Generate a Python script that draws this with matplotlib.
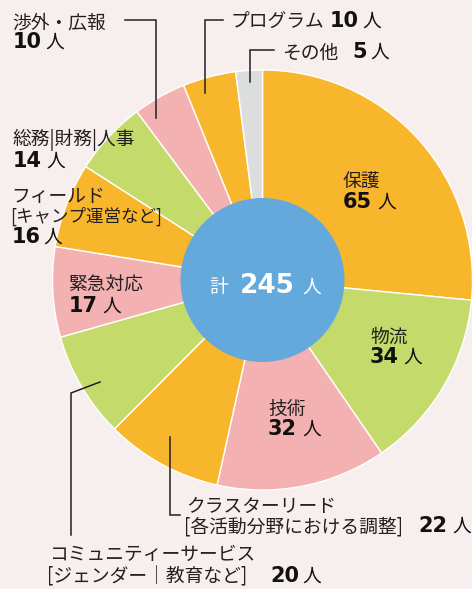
import matplotlib.pyplot as plt
from matplotlib.patches import Circle

# ---- data (clockwise from 12 o'clock) ----
categories = ["保護", "物流", "技術", "クラスターリード", "コミュニティーサービス",
              "緊急対応", "フィールド", "総務|財務|人事", "渉外・広報", "プログラム", "その他"]
counts = [65, 34, 32, 22, 20, 17, 16, 14, 10, 10, 5]
total = sum(counts)

ORANGE, GREEN, PINK, GREY = "#f8b62d", "#c4da6b", "#f4b1b1", "#dcdddd"
colors = [ORANGE, GREEN, PINK, ORANGE, GREEN, PINK, ORANGE, GREEN, PINK, ORANGE, GREY]

W, H = 472, 589
BG = "#f6efed"
CX, CY, R_OUT, R_IN = 262.5, 280, 210, 82

JP = dict(family=["Noto Sans CJK JP", "DejaVu Sans"], fontsize=13.5, color="#231f20",
          va="baseline", ha="left")
NUM = dict(family="DejaVu Sans", fontweight="bold", fontsize=15, color="#111111",
           va="baseline", ha="left")

fig = plt.figure(figsize=(W / 100, H / 100), dpi=100, facecolor=BG)
ax = fig.add_axes([0, 0, 1, 1])
ax.set_xlim(0, W)
ax.set_ylim(H, 0)  # pixel-like coords, y down
ax.set_aspect("equal")
ax.axis("off")

# y axis is inverted, so counterclock in data = clockwise on screen; -90 = top
ax.pie(counts, colors=colors, startangle=-90, counterclock=True,
       center=(CX, CY), radius=R_OUT,
       wedgeprops=dict(edgecolor="white", linewidth=1.0))
ax.set_xlim(0, W)
ax.set_ylim(H, 0)
ax.add_patch(Circle((CX, CY), R_IN, facecolor="#63a9dc", edgecolor="none", zorder=3))


def label(x, y, s, style=JP, **kw):
    ax.text(x, y, s, **{**style, **kw})


def count_row(x_num, x_unit, y, n, color="#111111", size=15):
    ax.text(x_num, y, str(n), **{**NUM, "color": color, "fontsize": size})
    ax.text(x_unit, y, "人", **{**JP, "color": color})


# centre
ax.text(209, 293, "計", **{**JP, "color": "white"}, zorder=4)
count_row(240, 302, 293, total, color="white", size=19)

# labels inside wedges
label(343, 188, categories[0]); count_row(343, 377, 208, counts[0])
label(370, 343, categories[1]); count_row(370, 403, 363, counts[1])
label(268, 415, categories[2]); count_row(268, 302, 435, counts[2])
label(68, 291, categories[5]); count_row(69, 102, 312, counts[5])

# labels outside
label(12, 28, categories[8]); count_row(13, 45, 48, counts[8])
label(231, 28, categories[9]); count_row(330, 362, 27, counts[9])
label(282, 59, categories[10]); count_row(352, 370, 58, counts[10])
label(12, 145, "総務|財務|人事"); count_row(13, 46, 167, counts[7])
label(11, 202, categories[6]); label(10, 222, "[キャンプ運営など]", fontsize=12.6)
count_row(12, 43, 243, counts[6])
label(186, 512, categories[3]); label(184, 532, "[各活動分野における調整]")
count_row(418, 452, 532, counts[3])
label(49, 560, categories[4]); label(47, 582, "[ジェンダー｜教育など]")
count_row(270, 302, 582, counts[4])

# leader lines
LN = dict(color="#231f20", lw=1.1, solid_joinstyle="miter")
ax.plot([125, 156, 156], [20, 20, 118], **LN)
ax.plot([223, 205, 205], [20, 20, 93], **LN)
ax.plot([274, 250, 250], [50, 50, 82], **LN)
ax.plot([170, 170, 180], [437, 515, 515], **LN)
ax.plot([100, 71, 71], [382, 393, 535], **LN)

fig.savefig("out.png", dpi=100, facecolor=BG)
